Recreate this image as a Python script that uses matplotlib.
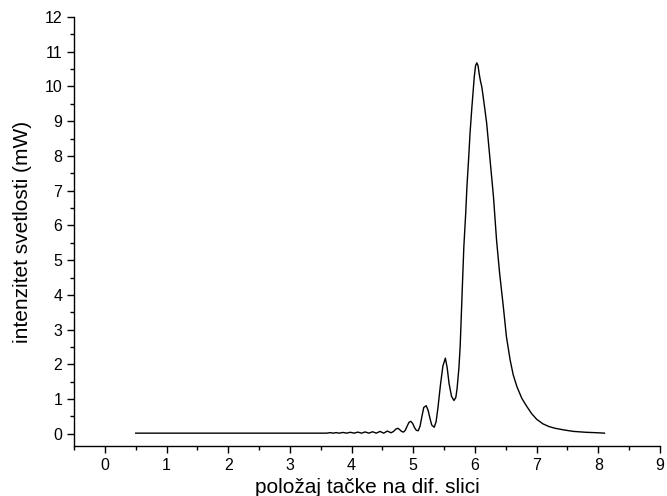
import matplotlib
matplotlib.use("Agg")
import matplotlib.pyplot as plt
from matplotlib.ticker import MultipleLocator

plt.rcParams['font.family'] = ['Liberation Sans', 'DejaVu Sans']

pos = [0.5, 1.0, 1.5, 2.0, 2.5, 3.0, 3.5,
       3.6, 3.65, 3.7, 3.75, 3.8, 3.86, 3.92, 3.98, 4.04, 4.1, 4.16, 4.22,
       4.28, 4.34, 4.40, 4.46, 4.52, 4.58, 4.64, 4.68, 4.72, 4.75, 4.78, 4.81, 4.84,
       4.87, 4.9, 4.93, 4.96, 4.99, 5.02, 5.05, 5.08, 5.11, 5.14, 5.17, 5.21, 5.24,
       5.27, 5.3, 5.34, 5.37, 5.4, 5.44, 5.48, 5.52, 5.55, 5.58, 5.62, 5.66,
       5.69, 5.71, 5.74, 5.76, 5.78, 5.80, 5.82, 5.85, 5.87, 5.90, 5.92, 5.95,
       5.97, 5.99, 6.01, 6.03, 6.05, 6.07, 6.09, 6.11, 6.13, 6.16, 6.19, 6.24,
       6.30, 6.35, 6.40, 6.46, 6.51, 6.57, 6.62, 6.68, 6.76, 6.84, 6.92, 7.0,
       7.1, 7.2, 7.3, 7.45, 7.6, 7.8, 8.0, 8.1]
intensity = [0.02, 0.02, 0.02, 0.02, 0.02, 0.02, 0.02,
             0.02, 0.035, 0.02, 0.035, 0.02, 0.04, 0.02, 0.045, 0.02, 0.05, 0.02, 0.055,
             0.02, 0.06, 0.02, 0.07, 0.02, 0.08, 0.03, 0.07, 0.14, 0.16, 0.12, 0.07, 0.05,
             0.1, 0.22, 0.33, 0.36, 0.3, 0.18, 0.1, 0.09, 0.22, 0.5, 0.76, 0.81, 0.68,
             0.45, 0.25, 0.19, 0.35, 0.75, 1.4, 1.95, 2.18, 1.9, 1.45, 1.08, 0.96,
             1.05, 1.3, 1.9, 2.51, 3.47, 4.45, 5.39, 6.35, 7.12, 8.0, 8.65, 9.4,
             9.85, 10.3, 10.6, 10.68, 10.6, 10.35, 10.15, 10.0, 9.75, 9.35, 8.94, 7.98,
             6.83, 5.58, 4.62, 3.66, 2.80, 2.13, 1.7, 1.36, 1.02, 0.79, 0.58, 0.42,
             0.29, 0.21, 0.16, 0.11, 0.07, 0.045, 0.03, 0.02]

fig = plt.figure(figsize=(6.67, 4.96), dpi=100)
ax = fig.add_axes([0.111, 0.1008, 0.8785, 0.8649])
ax.plot(pos, intensity, color='black', linewidth=1.0)

ax.set_xlim(-0.5, 9)
ax.set_ylim(-0.35, 12)
ax.xaxis.set_minor_locator(MultipleLocator(0.5))
ax.yaxis.set_minor_locator(MultipleLocator(0.5))
ax.set_xticks(range(0, 10))
ax.set_yticks(range(0, 13))
ax.spines['top'].set_visible(False)
ax.spines['right'].set_visible(False)
for s in ('left', 'bottom'):
    ax.spines[s].set_linewidth(1.0)
ax.tick_params(which='major', direction='out', length=5, width=1.0, labelsize=11.5)
ax.tick_params(which='minor', direction='out', length=3, width=1.0)
ax.set_xlabel('položaj tačke na dif. slici', fontsize=15, labelpad=4)
ax.set_ylabel('intenzitet svetlosti (mW)', fontsize=15, labelpad=9)

fig.savefig('out.png', dpi=100)
